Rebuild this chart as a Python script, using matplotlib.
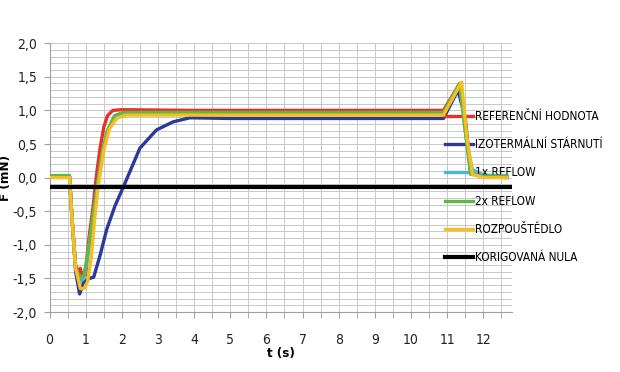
import matplotlib
matplotlib.use('Agg')
import matplotlib.pyplot as plt
from matplotlib.ticker import MultipleLocator, FuncFormatter

plt.rcParams['font.family'] = ['DejaVu Sans']
plt.rcParams['font.stretch'] = 'condensed'

# values (time in s, force in mN)
t_ref = [0, 0.55, 0.62, 0.72, 0.8, 0.85, 0.9, 1.0, 1.05, 1.1, 1.2, 1.3, 1.4, 1.5, 1.6, 1.75, 2.0,
         4.0, 7.0, 10.9, 11.35, 11.5, 11.65, 12.0, 12.65]
f_ref = [0.02, 0.02, -0.6, -1.3, -1.42, -1.35, -1.45, -1.45, -1.1, -0.85, -0.45, 0.05, 0.45, 0.75,
         0.92, 1.0, 1.01, 1.0, 1.0, 1.0, 1.4, 0.8, 0.1, 0.02, 0.0]

t_izo = [0, 0.55, 0.62, 0.72, 0.83, 0.95, 1.1, 1.22, 1.4, 1.58, 1.81, 2.04, 2.5, 2.96, 3.42, 3.88,
         5.0, 7.0, 10.9, 11.3, 11.5, 11.65, 12.0, 12.65]
f_izo = [0.02, 0.02, -0.6, -1.4, -1.73, -1.55, -1.5, -1.48, -1.15, -0.77, -0.42, -0.14, 0.44, 0.71,
         0.83, 0.89, 0.88, 0.88, 0.88, 1.3, 0.9, 0.1, 0.03, 0.02]

t_r1 = [0, 0.55, 0.62, 0.72, 0.85, 0.95, 1.05, 1.15, 1.3, 1.45, 1.6, 1.8, 2.0, 4.0, 7.0, 10.9,
        11.35, 11.55, 11.7, 12.0, 12.65]
f_r1 = [0.02, 0.02, -0.6, -1.35, -1.55, -1.5, -1.2, -0.8, -0.2, 0.35, 0.7, 0.92, 0.96, 0.96,
        0.96, 0.96, 1.38, 0.5, 0.12, 0.04, 0.02]

t_r2 = [0, 0.55, 0.62, 0.72, 0.85, 0.95, 1.05, 1.15, 1.3, 1.45, 1.6, 1.8, 2.05, 4.0, 7.0, 10.9,
        11.35, 11.5, 11.65, 12.0, 12.65]
f_r2 = [0.03, 0.03, -0.6, -1.35, -1.5, -1.45, -1.15, -0.75, -0.2, 0.35, 0.7, 0.92, 0.97, 0.97,
        0.97, 0.97, 1.4, 0.7, 0.05, 0.02, 0.02]

t_roz = [0, 0.55, 0.62, 0.72, 0.85, 0.95, 1.05, 1.15, 1.25, 1.35, 1.5, 1.65, 1.85, 2.1, 4.0,
         7.0, 10.9, 11.4, 11.55, 11.7, 12.0, 12.65]
f_roz = [0.0, 0.0, -0.6, -1.35, -1.65, -1.65, -1.55, -1.2, -0.6, -0.1, 0.4, 0.72, 0.88, 0.93,
         0.93, 0.93, 0.93, 1.42, 0.6, 0.05, 0.0, 0.0]

t_nula = [0, 12.8]
f_nula = [-0.14, -0.14]

fig = plt.figure(figsize=(6.2, 3.72), dpi=100)
ax = fig.add_axes([0.08, 0.161, 0.746, 0.723])

ax.plot(t_izo, f_izo, color='#2b3a9a', lw=2.4, zorder=3, label='IZOTERMÁLNÍ STÁRNUTÍ')
ax.plot(t_ref, f_ref, color='#e8312b', lw=2.4, zorder=4, label='REFERENČNÍ HODNOTA')
ax.plot(t_r1, f_r1, color='#4fb3e0', lw=2.4, zorder=5, label='1x REFLOW')
ax.plot(t_r2, f_r2, color='#5cb848', lw=2.4, zorder=6, label='2x REFLOW')
ax.plot(t_roz, f_roz, color='#f7be1e', lw=2.4, zorder=7, label='ROZPOUŠTĚDLO')
ax.plot(t_nula, f_nula, color='black', lw=3, zorder=8, label='KORIGOVANÁ NULA')

ax.set_xlim(0, 12.8)
ax.set_ylim(-2, 2)
ax.xaxis.set_major_locator(MultipleLocator(1))
ax.xaxis.set_minor_locator(MultipleLocator(0.5))
ax.yaxis.set_major_locator(MultipleLocator(0.5))
ax.yaxis.set_minor_locator(MultipleLocator(0.1))
ax.yaxis.set_major_formatter(FuncFormatter(lambda v, p: ('%.1f' % v).replace('.', ',')))
ax.grid(True, which='both', color='#c8c8c8', lw=0.7)
ax.set_axisbelow(True)
for s in ['top', 'right']:
    ax.spines[s].set_visible(False)
ax.spines['left'].set_color('#a0a0a0')
ax.spines['bottom'].set_color('#a0a0a0')
ax.tick_params(which='both', color='#a0a0a0', length=4, labelsize=10, labelcolor='#222222')
ax.tick_params(axis='x', which='major', pad=11)
ax.tick_params(axis='y', which='minor', length=0)
ax.tick_params(axis='y', pad=5)

ax.set_xlabel('t (s)', fontsize=9.5, fontweight='bold', labelpad=0)
ax.set_ylabel('F (mN)', fontsize=9.5, fontweight='bold')
ax.yaxis.set_label_coords(-0.082, 0.5)

h, l = ax.get_legend_handles_labels()
order = [1, 0, 2, 3, 4, 5]
ax.legend([h[i] for i in order], [l[i] for i in order], loc='upper left',
          bbox_to_anchor=(0.845, 0.77), frameon=False, fontsize=8.5,
          handlelength=2.4, handletextpad=0.1, labelspacing=1.3, borderaxespad=0)

plt.savefig('out.png', dpi=100)
